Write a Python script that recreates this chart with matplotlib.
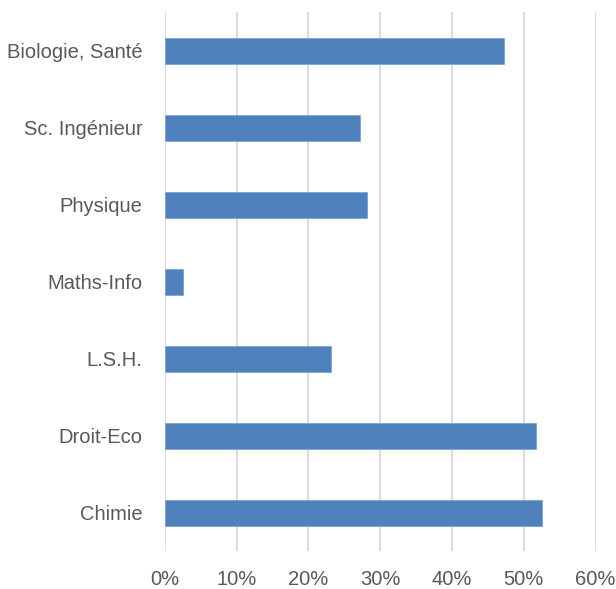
import matplotlib.pyplot as plt
from matplotlib.ticker import PercentFormatter

categories = ["Biologie, Santé", "Sc. Ingénieur", "Physique", "Maths-Info",
              "L.S.H.", "Droit-Eco", "Chimie"]
shares = [0.473, 0.272, 0.282, 0.025, 0.231, 0.517, 0.525]
x_ticks = [0.0, 0.1, 0.2, 0.3, 0.4, 0.5, 0.6]

plt.rcParams["font.family"] = ["Liberation Sans", "DejaVu Sans"]

fig = plt.figure(figsize=(6.16, 5.89), dpi=100)
ax = fig.add_axes([0.2674, 0.0637, 0.6996, 0.9151])

# first category on top
pos = list(range(len(categories)))[::-1]
ax.barh(pos, shares, height=0.35, color="#4f81bd", edgecolor="#7da2d3",
        linewidth=0.6, zorder=3)

ax.set_xlim(0, 0.6)
ax.set_ylim(-0.5, len(categories) - 0.5)
ax.set_xticks(x_ticks)
ax.xaxis.set_major_formatter(PercentFormatter(1.0, decimals=0))
ax.set_yticks(pos)
ax.set_yticklabels(categories)

ax.grid(axis="x", color="#d9d9d9", linewidth=1.3, zorder=0)
for s in ax.spines.values():
    s.set_visible(False)
ax.tick_params(axis="both", length=0, labelsize=14.5, colors="#595959")
ax.tick_params(axis="x", pad=13)
ax.tick_params(axis="y", pad=16)

plt.savefig("out.png", dpi=100)
plt.close()
